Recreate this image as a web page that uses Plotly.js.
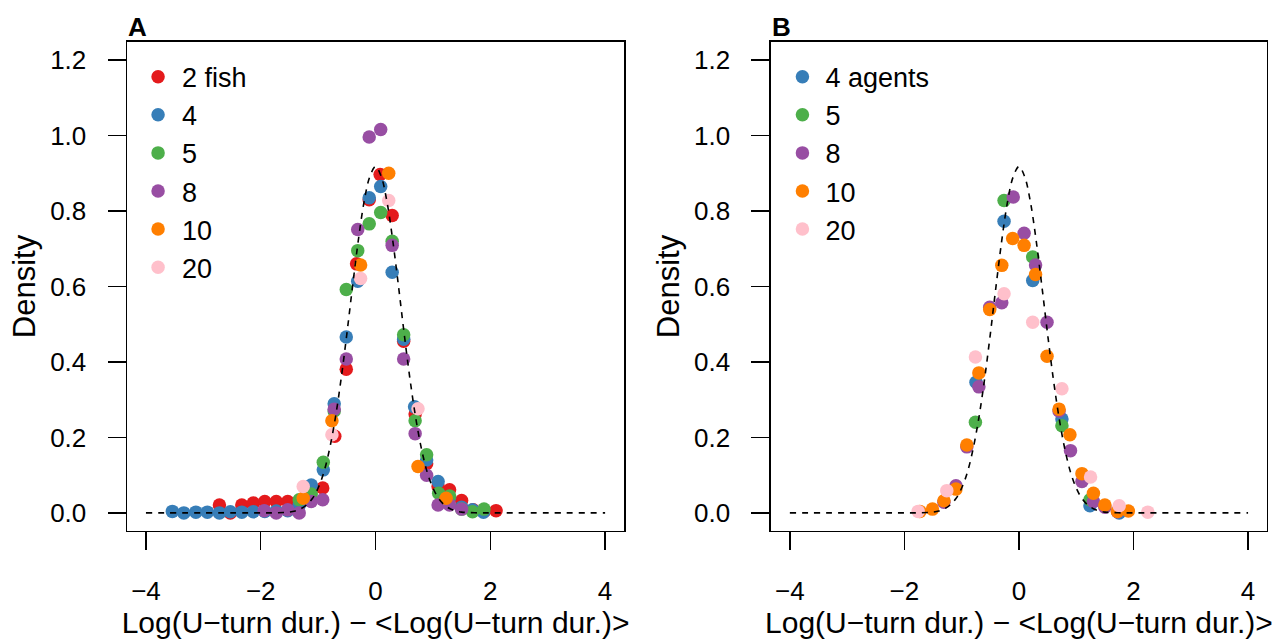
<!DOCTYPE html>
<html>
<head>
<meta charset="utf-8">
<script src="https://cdn.plot.ly/plotly-3.0.1.min.js"></script>
<style>html,body{margin:0;padding:0;background:#fff;}#chart{width:1283px;height:642px;}</style>
</head>
<body>
<div id="chart"></div>
<script>
// ---- Panel A: fish ----
const A_names = ["2 fish", "4", "5", "8", "10", "20"];
const A_red_x = [-2.72, -2.53, -2.33, -2.13, -1.93, -1.73, -1.53, -1.33, -1.12, -0.92, -0.71, -0.51, -0.33, -0.11, 0.08, 0.29, 0.49, 0.69, 0.89, 1.09, 1.29, 1.50, 1.70, 1.90, 2.10];
const A_red_y = [0.021, 0.000, 0.021, 0.026, 0.030, 0.030, 0.030, 0.025, 0.060, 0.066, 0.203, 0.381, 0.660, 0.830, 0.897, 0.788, 0.455, 0.262, 0.130, 0.070, 0.061, 0.033, 0.008, 0.005, 0.006];
const A_blue_x = [-3.54, -3.34, -3.13, -2.93, -2.72, -2.53, -2.33, -2.13, -1.93, -1.73, -1.53, -1.33, -1.12, -0.91, -0.72, -0.51, -0.31, -0.11, 0.09, 0.29, 0.49, 0.68, 0.89, 1.09, 1.29, 1.50, 1.69, 1.88];
const A_blue_y = [0.004, 0.000, 0.002, 0.002, 0.000, 0.003, 0.002, 0.003, 0.004, 0.005, 0.006, 0.020, 0.074, 0.114, 0.289, 0.466, 0.614, 0.835, 0.865, 0.638, 0.460, 0.281, 0.140, 0.083, 0.040, 0.015, 0.008, 0.002];
const A_green_x = [-1.33, -1.12, -0.91, -0.72, -0.51, -0.31, -0.11, 0.09, 0.29, 0.49, 0.69, 0.89, 1.10, 1.29, 1.50, 1.69, 1.89];
const A_green_y = [0.035, 0.050, 0.134, 0.270, 0.592, 0.695, 0.766, 0.796, 0.720, 0.472, 0.244, 0.154, 0.052, 0.045, 0.010, 0.003, 0.010];
const A_purple_x = [-1.94, -1.73, -1.53, -1.33, -1.12, -0.92, -0.72, -0.51, -0.31, -0.11, 0.09, 0.29, 0.49, 0.69, 0.89, 1.09, 1.29, 1.50];
const A_purple_y = [0.006, 0.000, 0.008, 0.000, 0.030, 0.035, 0.275, 0.408, 0.751, 0.996, 1.016, 0.709, 0.408, 0.210, 0.100, 0.021, 0.021, 0.010];
const A_orange_x = [-1.26, -0.76, -0.26, 0.23, 0.74, 1.23];
const A_orange_y = [0.039, 0.244, 0.657, 0.900, 0.123, 0.039];
const A_pink_x = [-1.26, -0.76, -0.26, 0.23, 0.74];
const A_pink_y = [0.070, 0.207, 0.621, 0.828, 0.276];

// ---- Panel B: agents ----
const B_names = ["4 agents", "5", "8", "10", "20"];
const B_blue_x = [-0.75, -0.26, 0.24, 0.75, 1.24, 1.75];
const B_blue_y = [0.346, 0.773, 0.616, 0.249, 0.019, 0.000];
const B_green_x = [-0.76, -0.26, 0.24, 0.75, 1.24];
const B_green_y = [0.240, 0.828, 0.678, 0.231, 0.035];
const B_purple_x = [-1.31, -1.10, -0.91, -0.70, -0.51, -0.30, -0.10, 0.09, 0.29, 0.49, 0.70, 0.90, 1.10, 1.30, 1.50, 1.72];
const B_purple_y = [0.028, 0.072, 0.175, 0.334, 0.545, 0.557, 0.837, 0.741, 0.657, 0.505, 0.270, 0.165, 0.083, 0.030, 0.015, 0.003];
const B_orange_x = [-1.73, -1.51, -1.31, -1.10, -0.91, -0.70, -0.51, -0.30, -0.11, 0.09, 0.29, 0.49, 0.70, 0.89, 1.10, 1.30, 1.50, 1.72, 1.91];
const B_orange_y = [0.004, 0.010, 0.032, 0.063, 0.180, 0.371, 0.539, 0.656, 0.727, 0.709, 0.632, 0.415, 0.275, 0.207, 0.104, 0.052, 0.021, 0.004, 0.005];
const B_pink_x = [-1.76, -1.26, -0.76, -0.26, 0.24, 0.75, 1.25, 1.75, 2.25];
const B_pink_y = [0.004, 0.059, 0.413, 0.581, 0.505, 0.329, 0.095, 0.019, 0.002];

// ---- Reference normal density (dashed) ----
const curveX = [-4, -2.0, -1.8, -1.6, -1.5, -1.4, -1.3, -1.2, -1.1, -1.0, -0.9, -0.8, -0.7, -0.6, -0.5, -0.4, -0.3, -0.2, -0.1, 0, 0.1, 0.2, 0.3, 0.4, 0.5, 0.6, 0.7, 0.8, 0.9, 1.0, 1.1, 1.2, 1.3, 1.4, 1.5, 1.6, 1.8, 2.0, 4];
const curveY = [0, 0, 0.000, 0.001, 0.002, 0.005, 0.011, 0.021, 0.038, 0.066, 0.108, 0.170, 0.252, 0.355, 0.474, 0.601, 0.722, 0.824, 0.891, 0.918, 0.891, 0.824, 0.722, 0.601, 0.474, 0.355, 0.252, 0.170, 0.108, 0.066, 0.038, 0.021, 0.011, 0.005, 0.002, 0.001, 0.000, 0, 0];

const xTicks = [-4, -2, 0, 2, 4];
const yTicks = [0.0, 0.2, 0.4, 0.6, 0.8, 1.0, 1.2];

const colors = ["#E41A1C", "#377EB8", "#4DAF4A", "#984EA3", "#FF7F00", "#FFC0CB"];
const FONT = "Liberation Sans, Arial, Helvetica, sans-serif";

function pts(x, y, name, color, xa, ya, leg, grp) {
  return {type: "scatter", mode: "markers", x: x, y: y, name: name, xaxis: xa, yaxis: ya,
    legend: leg, legendgroup: grp,
    marker: {color: color, size: 13.5, line: {width: 0}}, hoverinfo: "x+y"};
}

const AX = [[A_red_x, A_red_y], [A_blue_x, A_blue_y], [A_green_x, A_green_y], [A_purple_x, A_purple_y], [A_orange_x, A_orange_y], [A_pink_x, A_pink_y]];
const BX = [[B_blue_x, B_blue_y], [B_green_x, B_green_y], [B_purple_x, B_purple_y], [B_orange_x, B_orange_y], [B_pink_x, B_pink_y]];

const data = [];
AX.forEach((s, i) => data.push(pts(s[0], s[1], A_names[i], colors[i], "x", "y", "legend", "a" + i)));
BX.forEach((s, i) => data.push(pts(s[0], s[1], B_names[i], colors[i + 1], "x2", "y2", "legend2", "b" + i)));
data.push({type: "scatter", mode: "lines", x: curveX, y: curveY, xaxis: "x", yaxis: "y", showlegend: false,
  line: {color: "black", width: 1.6, dash: "6px,6px", shape: "spline"}, hoverinfo: "skip"});
data.push({type: "scatter", mode: "lines", x: curveX, y: curveY, xaxis: "x2", yaxis: "y2", showlegend: false,
  line: {color: "black", width: 1.6, dash: "6px,6px", shape: "spline"}, hoverinfo: "skip"});

const xTitle = "Log(U\u2212turn dur.) \u2212 <Log(U\u2212turn dur.)>";

function xaxis(dom) {
  return {domain: dom, range: [-4.33, 4.33], tickvals: xTicks, ticks: "outside", ticklen: 18, tickwidth: 1.5,
    tickcolor: "black", showline: true, mirror: true, linecolor: "black", linewidth: 1.5,
    showgrid: false, zeroline: false, automargin: false, ticklabelstandoff: 18,
    tickfont: {family: FONT, size: 26, color: "black"},
    title: {text: xTitle, font: {family: FONT, size: 30, color: "black"}, standoff: 1}};
}
function yaxis(anchor) {
  return {domain: [0.1729, 0.9346], anchor: anchor, range: [-0.048, 1.248], tickvals: yTicks, tickformat: ".1f",
    ticks: "outside", ticklen: 18, tickwidth: 1.5, tickcolor: "black", showline: true, mirror: true,
    linecolor: "black", linewidth: 1.5, showgrid: false, zeroline: false, automargin: false,
    ticklabelstandoff: 16, tickfont: {family: FONT, size: 26, color: "black"},
    title: {text: "Density", font: {family: FONT, size: 31, color: "black"}, standoff: 5}};
}

const layout = {
  width: 1283, height: 642, margin: {l: 0, r: 0, t: 0, b: 0},
  paper_bgcolor: "white", plot_bgcolor: "white", font: {family: FONT, size: 26, color: "black"},
  xaxis: Object.assign(xaxis([0.0990, 0.4864]), {anchor: "y"}),
  yaxis: yaxis("x"),
  xaxis2: Object.assign(xaxis([0.6009, 0.9875]), {anchor: "y2"}),
  yaxis2: yaxis("x2"),
  legend: {x: 0.1045, y: 0.918, xanchor: "left", yanchor: "top", bgcolor: "rgba(0,0,0,0)",
    font: {family: FONT, size: 27, color: "black"}, tracegroupgap: 0, itemwidth: 38},
  legend2: {x: 0.6075, y: 0.918, xanchor: "left", yanchor: "top", bgcolor: "rgba(0,0,0,0)",
    font: {family: FONT, size: 27, color: "black"}, tracegroupgap: 0, itemwidth: 36},
  annotations: [
    {text: "<b>A</b>", xref: "paper", yref: "paper", x: 0.0985, y: 0.958, xanchor: "left", yanchor: "middle",
      showarrow: false, font: {family: FONT, size: 26, color: "black"}},
    {text: "<b>B</b>", xref: "paper", yref: "paper", x: 0.6005, y: 0.958, xanchor: "left", yanchor: "middle",
      showarrow: false, font: {family: FONT, size: 26, color: "black"}}
  ]
};

Plotly.newPlot("chart", data, layout, {displayModeBar: false, staticPlot: true});
</script>
</body>
</html>
